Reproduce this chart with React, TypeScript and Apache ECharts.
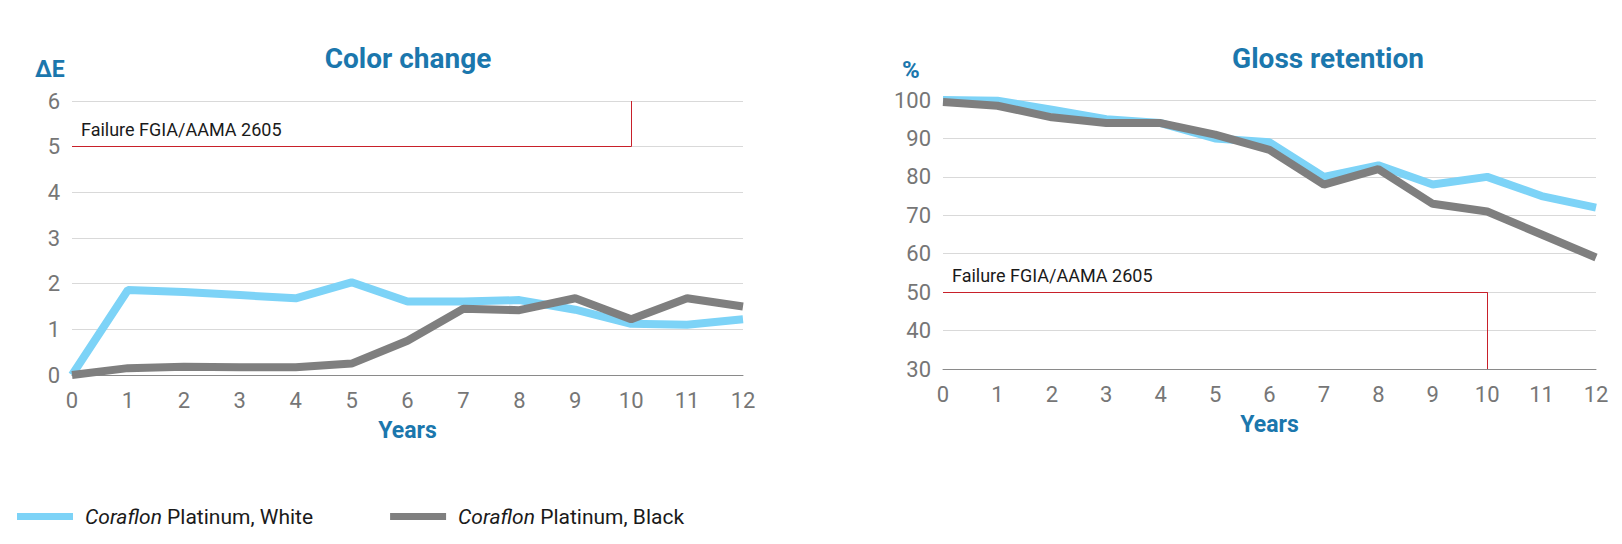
import React, { useEffect, useRef } from "react";
import * as echarts from "echarts";

const years = [0, 1, 2, 3, 4, 5, 6, 7, 8, 9, 10, 11, 12];
const colorWhite = [0, 1.86, 1.82, 1.75, 1.68, 2.03, 1.61, 1.61, 1.64, 1.43, 1.12, 1.1, 1.22];
const colorBlack = [0, 0.15, 0.18, 0.17, 0.17, 0.25, 0.75, 1.45, 1.42, 1.68, 1.22, 1.68, 1.5];
const glossWhite = [100, 99.8, 97.5, 95, 94, 90, 89, 80, 83, 78, 80, 75, 72];
const glossBlack = [99.5, 98.5, 95.5, 94, 94, 91, 87, 78, 82, 73, 71, 65, 59];
const seriesNames = ["Coraflon Platinum, White", "Coraflon Platinum, Black"];
const titles = ["Color change", "Gloss retention"];
const yNames = ["ΔE", "%"];
const failureText = "Failure FGIA/AAMA 2605";
const colorLimit = { value: 5, year: 10, end: 6 };
const glossLimit = { value: 50, year: 10, end: 30 };

const BLUE = "#1b77ad";
const GRAY_TXT = "#767676";
const FONT = "Roboto, 'Liberation Sans', sans-serif";

export default function App() {
  const ref = useRef<HTMLDivElement>(null);
  useEffect(() => {
    document.body.style.margin = "0";
    const chart = echarts.init(ref.current!, null, { renderer: "svg" });
    const pairs = (arr: number[]) => years.map((y, i) => [y, arr[i]]);
    const xAxisBase = (gi: number) => ({
      type: "value",
      gridIndex: gi,
      min: 0,
      max: 12,
      interval: 1,
      name: "Years",
      nameLocation: "middle",
      nameGap: 44,
      nameTextStyle: { color: BLUE, fontSize: 23, fontWeight: "bold", fontFamily: FONT },
      axisLine: { show: true, lineStyle: { color: "#8a8a8a", width: 1 } },
      axisTick: { show: false },
      splitLine: { show: false },
      axisLabel: { color: GRAY_TXT, fontSize: 22, margin: 14, fontFamily: FONT },
    });
    const yAxisBase = (gi: number, min: number, max: number, interval: number) => ({
      type: "value",
      gridIndex: gi,
      min,
      max,
      interval,
      axisLine: { show: false },
      axisTick: { show: false },
      splitLine: { show: true, lineStyle: { color: "#d9d9d9", width: 1 } },
      axisLabel: { color: GRAY_TXT, fontSize: 22, margin: 12, fontFamily: FONT },
    });
    const markLine = (lim: { value: number; year: number; end: number }) => ({
      silent: true,
      symbol: "none",
      animation: false,
      lineStyle: { color: "#c8202a", width: 1, type: "solid" },
      label: { show: false },
      data: [
        [
          {
            coord: [0, lim.value],
            label: {
              show: true,
              position: "insideStartTop",
              formatter: failureText,
              color: "#1a1a1a",
              fontSize: 18,
              fontFamily: FONT,
              distance: [9, 8],
            },
          },
          { coord: [lim.year, lim.value] },
        ],
        [{ coord: [lim.year, lim.value] }, { coord: [lim.year, lim.end] }],
      ],
    });
    const lineSeries = (name: string, color: string, data: number[], gi: number, ml?: any) => ({
      type: "line",
      name,
      xAxisIndex: gi,
      yAxisIndex: gi,
      data: pairs(data),
      symbol: "none",
      lineStyle: { color, width: 8 },
      itemStyle: { color },
      z: 3,
      ...(ml ? { markLine: ml } : {}),
    });
    const titleStyle = { color: BLUE, fontSize: 28, fontWeight: "bold", fontFamily: FONT };
    chart.setOption({
      animation: false,
      textStyle: { fontFamily: FONT },
      title: [
        { text: titles[0], left: 403, top: 39, textAlign: "center", textStyle: titleStyle },
        { text: titles[1], left: 1323, top: 39, textAlign: "center", textStyle: titleStyle },
      ],
      graphic: [
        { type: "text", left: 35, top: 58, style: { text: yNames[0], fill: BLUE, font: `bold 23px ${FONT}` } },
        { type: "text", left: 902, top: 58, style: { text: yNames[1], fill: BLUE, font: `bold 24px ${FONT}` } },
      ],
      legend: {
        left: 12,
        top: 501,
        icon: "rect",
        itemWidth: 56,
        itemHeight: 7,
        itemGap: 77,
        data: seriesNames,
        formatter: (name: string) => "{i|Coraflon} " + name.replace("Coraflon ", ""),
        textStyle: {
          color: "#1a1a1a",
          fontSize: 21,
          fontFamily: FONT,
          padding: [0, 0, 0, 7],
          rich: { i: { fontStyle: "italic", fontSize: 21, fontFamily: FONT, color: "#1a1a1a" } },
        },
      },
      grid: [
        { left: 72, top: 101, width: 671, height: 274 },
        { left: 943, top: 100, width: 653, height: 269 },
      ],
      xAxis: [xAxisBase(0), xAxisBase(1)],
      yAxis: [yAxisBase(0, 0, 6, 1), yAxisBase(1, 30, 100, 10)],
      series: [
        lineSeries(seriesNames[0], "#7dd3f7", colorWhite, 0, markLine(colorLimit)),
        lineSeries(seriesNames[1], "#7f7f7f", colorBlack, 0),
        lineSeries(seriesNames[0], "#7dd3f7", glossWhite, 1, markLine(glossLimit)),
        lineSeries(seriesNames[1], "#7f7f7f", glossBlack, 1),
      ],
    });
    return () => chart.dispose();
  }, []);
  return <div ref={ref} style={{ width: 1622, height: 544 }} />;
}
